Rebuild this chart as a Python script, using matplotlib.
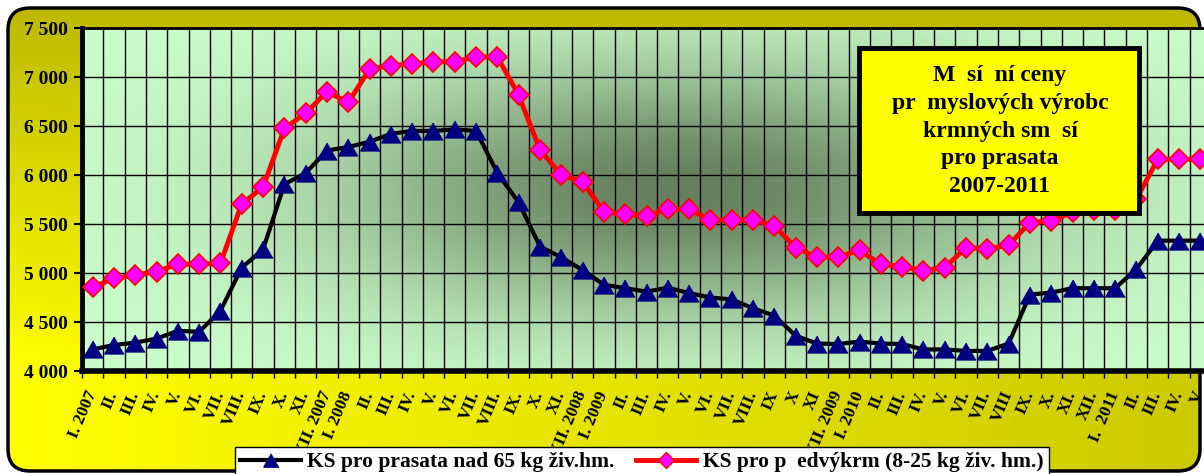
import numpy as np
import matplotlib
matplotlib.use("Agg")
import matplotlib.pyplot as plt
from matplotlib.patches import FancyBboxPatch, Rectangle
from matplotlib.lines import Line2D
from matplotlib.ticker import FuncFormatter

plt.rcParams["font.family"] = ["Liberation Serif", "DejaVu Serif"]
plt.rcParams["font.weight"] = "bold"

# mesice 2007 - 2011 (graf je vpravo oriznuty)
labels = ["I. 2007", "II.", "III.", "IV.", "V.", "VI.", "VII.", "VIII.", "IX.", "X.", "XI.", "XII. 2007",
          "I. 2008", "II.", "III.", "IV.", "V.", "VI.", "VII.", "VIII.", "IX.", "X.", "XI.", "XII. 2008",
          "I. 2009", "II.", "III.", "IV.", "V.", "VI.", "VII.", "VIII.", "IX", "X", "XI", "XII. 2009",
          "I. 2010", "II.", "III.", "IV.", "V.", "VI.", "VII.", "VIII", "IX.", "X.", "XI.", "XII.",
          "I.  2011", "II.", "III.", "IV.", "V"]

# KS pro prasata nad 65 kg
vykrm = [4220, 4265, 4290, 4330, 4410, 4400, 4615, 5055, 5240, 5905,
         6020, 6250, 6285, 6340, 6420, 6450, 6450, 6465, 6450, 6020,
         5720, 5270, 5160, 5030, 4880, 4845, 4810, 4850, 4795, 4750,
         4730, 4640, 4565, 4360, 4280, 4275, 4300, 4280, 4275, 4220,
         4220, 4205, 4205, 4280, 4780, 4800, 4845, 4845, 4845, 5040,
         5330, 5330, 5330]

# KS pro predvykrm 8-25 kg
predvykrm = [4855, 4945, 4980, 5015, 5090, 5090, 5100, 5705, 5875, 6475,
             6630, 6850, 6740, 7080, 7115, 7135, 7155, 7155, 7205, 7205,
             6815, 6255, 6000, 5930, 5625, 5600, 5585, 5650, 5650, 5540,
             5540, 5540, 5480, 5260, 5160, 5165, 5230, 5090, 5065, 5025,
             5055, 5260, 5245, 5285, 5515, 5530, 5620, 5640, 5640, 5755,
             6160, 6160, 6160]

serie1 = "KS pro prasata nad 65 kg živ.hm."
serie2 = "KS pro p  edvýkrm (8-25 kg živ. hm.)"
nadpis = "M  sí  ní ceny\npr  myslových výrobc\nkrmných sm  sí\npro prasata\n2007-2011"

W, H = 1204, 474
fig = plt.figure(figsize=(W / 100, H / 100), dpi=100)

def fx(p):
    return p / W

def fy(p):
    return 1 - p / H

# zluty podklad se zaoblenym ramem
bg = fig.add_axes([0, 0, 1, 1], zorder=-1)
bg.set_xlim(0, W)
bg.set_ylim(H, 0)
bg.axis("off")
gx, gy = np.meshgrid(np.linspace(0, 1, 300), np.linspace(0, 1, 120))
t = np.clip(gy * 1.3, 0, 1) * (1 - 0.75 * gx)
olive = np.array([0.74, 0.72, 0.0])
yellow = np.array([1.0, 1.0, 0.0])
im = bg.imshow(olive + (yellow - olive) * t[..., None], extent=(0, W, H, 0), aspect="auto")
ram = FancyBboxPatch((8, 8), 1192, 463, boxstyle="round,pad=0,rounding_size=22",
                     fc="none", ec="black", lw=2.5)
bg.add_patch(ram)
im.set_clip_path(ram)

# graf
ax = fig.add_axes([fx(82), fy(371), 1129 / W, 343 / H])
px, py = np.meshgrid(np.linspace(82, 1211, 400), np.linspace(28, 371, 150))
w = np.exp(-((px - 680) / 350) ** 2 - ((py - 190) / 130) ** 2)
light = np.array([0.80, 1.0, 0.80])
dark = np.array([0.40, 0.50, 0.37])
ax.imshow(light + (dark - light) * w[..., None], extent=(-0.5, 52.5, 4000, 7500),
          aspect="auto", zorder=0)

x = np.arange(len(labels))
tri = [(0, 1), (-1.15, -1), (1.15, -1)]
ax.plot(x, vykrm, color="black", lw=3, marker=tri, ms=14, mfc="#000080", mec="#000080", zorder=3)
ax.plot(x, predvykrm, color="red", lw=3.5, marker="D", ms=10.5, mfc="#FF00FF", mec="red",
        mew=1.2, zorder=4)

ax.set_xlim(-0.5, 52.5)
ax.set_ylim(4000, 7500)
ax.set_yticks(np.arange(4000, 7501, 500))
ax.yaxis.set_major_formatter(FuncFormatter(lambda v, p: f"{int(v):,}".replace(",", " ")))
ax.tick_params(axis="y", length=6, width=1.5, labelsize=14, pad=4)
ax.set_xticks(x)
ax.set_xticklabels(labels, rotation=67, ha="right", va="center", rotation_mode="anchor")
ax.tick_params(axis="x", which="major", length=0, labelsize=12.5, pad=15)
ax.set_xticks(np.arange(-0.5, 53, 1), minor=True)
ax.tick_params(axis="x", which="minor", length=5, width=1)
ax.grid(which="minor", axis="x", color="black", lw=1)
ax.grid(which="major", axis="y", color="black", lw=1)
ax.set_axisbelow(False)
ax.spines["left"].set_linewidth(3.5)
ax.spines["bottom"].set_linewidth(4)
ax.spines["top"].set_linewidth(2)
ax.spines["right"].set_linewidth(2)

# nadpis v ramecku
fig.add_artist(Rectangle((fx(859), fy(213)), 280 / W, 165 / H, transform=fig.transFigure,
                         fc="#FFFF00", ec="black", lw=3.5, zorder=10))
fig.text(fx(1000), fy(131), nadpis, ha="center", va="center", fontsize=17, weight="bold",
         linespacing=1.42, zorder=11)

# legenda
h1 = Line2D([], [], color="black", lw=3, marker=tri, ms=11, mfc="#000080", mec="#000080")
h2 = Line2D([], [], color="red", lw=3.5, marker="D", ms=8, mfc="#FF00FF", mec="red")
fig.legend([h1, h2], [serie1, serie2], loc="upper left", bbox_to_anchor=(fx(235), fy(447)),
           ncol=2, fancybox=False, edgecolor="black", facecolor="white", framealpha=1,
           prop={"size": 15.5, "weight": "bold"}, handlelength=2.8, handletextpad=0.3,
           columnspacing=1.0, borderpad=0.25, borderaxespad=0)

fig.savefig("out.png", dpi=100)
